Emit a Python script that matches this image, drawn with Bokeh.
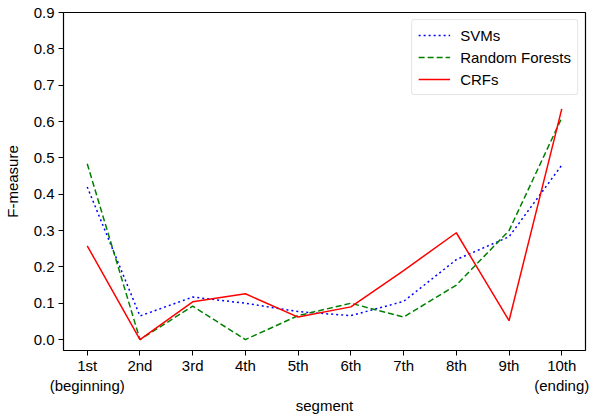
from bokeh.plotting import figure
from bokeh.models import FixedTicker, Range1d, Legend, LegendItem, NumeralTickFormatter
from bokeh.embed import file_html
from bokeh.resources import INLINE

segments = [1, 2, 3, 4, 5, 6, 7, 8, 9, 10]
tick_labels = ["1st\n(beginning)", "2nd", "3rd", "4th", "5th", "6th", "7th", "8th", "9th", "10th\n(ending)"]
svms = [0.42, 0.065, 0.117, 0.10, 0.077, 0.066, 0.105, 0.22, 0.283, 0.48]
random_forests = [0.484, 0.0, 0.092, 0.0, 0.066, 0.10, 0.062, 0.15, 0.30, 0.61]
crfs = [0.258, 0.0, 0.104, 0.126, 0.062, 0.09, 0.19, 0.294, 0.052, 0.635]
y_ticks = [0.0, 0.1, 0.2, 0.3, 0.4, 0.5, 0.6, 0.7, 0.8, 0.9]

FONT = "Liberation Sans"
FS = "15px"

p = figure(width=589, height=416, output_backend="svg", toolbar_location=None,
           x_range=Range1d(0.55, 10.45), y_range=Range1d(-0.03, 0.9),
           min_border_left=62, min_border_right=4, min_border_top=12, min_border_bottom=0)
p.grid.visible = False
p.outline_line_color = "black"
p.outline_line_width = 1.2
p.background_fill_color = "white"

r1 = p.line(segments, svms, line_color="blue", line_width=1.5, line_dash="2 3")
r2 = p.line(segments, random_forests, line_color="#008000", line_width=1.5, line_dash="6 3")
r3 = p.line(segments, crfs, line_color="red", line_width=1.5)

p.xaxis.ticker = FixedTicker(ticks=segments)
p.xaxis.major_label_overrides = {s: l for s, l in zip(segments, tick_labels)}
p.yaxis.ticker = FixedTicker(ticks=y_ticks)
p.yaxis.formatter = NumeralTickFormatter(format="0.0")
for ax in (p.xaxis[0], p.yaxis[0]):
    ax.axis_line_color = None
    ax.major_tick_line_color = "black"
    ax.major_tick_in = 0
    ax.major_tick_out = 5
    ax.minor_tick_line_color = None
    ax.major_label_text_font = FONT
    ax.major_label_text_font_size = FS
    ax.major_label_text_color = "black"
    ax.axis_label_text_font = FONT
    ax.axis_label_text_font_size = FS
    ax.axis_label_text_font_style = "normal"
    ax.axis_label_text_color = "black"
p.xaxis.axis_label = "segment"
p.yaxis.axis_label = "F-measure"
p.xaxis.major_label_standoff = 1
p.yaxis.major_label_standoff = 4
p.xaxis.axis_label_standoff = 0
p.yaxis.axis_label_standoff = 10

legend = Legend(items=[LegendItem(label="SVMs", renderers=[r1]),
                       LegendItem(label="Random Forests", renderers=[r2]),
                       LegendItem(label="CRFs", renderers=[r3])],
                location="top_right")
legend.label_text_font = FONT
legend.label_text_font_size = FS
legend.label_text_color = "black"
legend.label_height = 18
legend.glyph_height = 18
legend.border_line_color = "#cccccc"
legend.border_line_width = 1
legend.border_radius = 3
legend.glyph_width = 32
legend.label_standoff = 10
legend.spacing = 4
legend.padding = 6
legend.margin = 7
p.add_layout(legend)

open("out.html", "w").write(file_html(p, INLINE))
